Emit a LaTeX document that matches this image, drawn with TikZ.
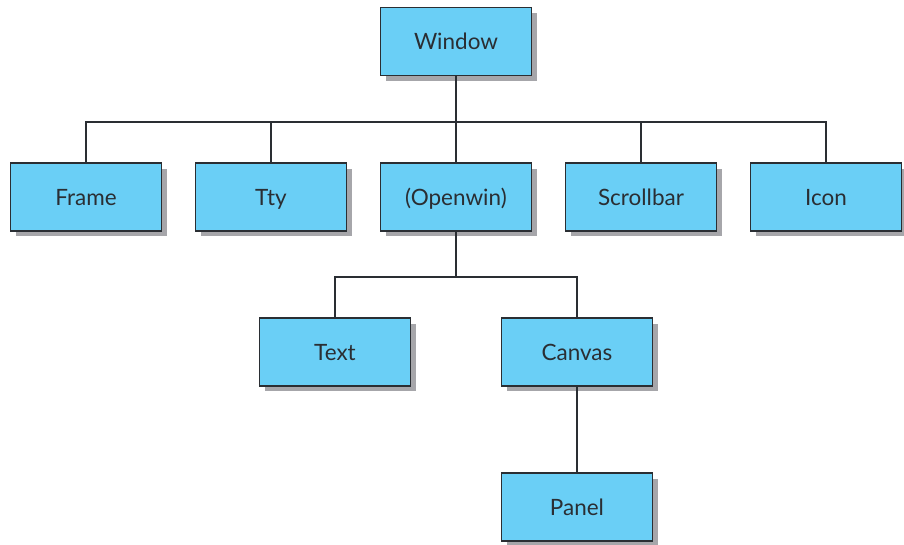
\documentclass[tikz,border=0pt]{standalone}
\usepackage{fontspec}
\setmainfont{Lato}
\usetikzlibrary{shadows}
\definecolor{boxblue}{HTML}{6ACFF6}
\definecolor{boxline}{HTML}{2A2E33}
\definecolor{shade}{HTML}{A6A6AA}
\tikzset{
	cls/.style={draw=boxline, line width=0.8pt, fill=boxblue, minimum width=3.02cm, minimum height=1.36cm, inner sep=0pt, text height=1.9ex, text depth=0pt, font=\fontsize{12.8}{14}\selectfont, text=boxline,
		drop shadow={shadow xshift=0.11cm, shadow yshift=-0.11cm, fill=shade, opacity=1}},
	link/.style={draw=boxline, line width=1.1pt}
}
\begin{document}
\begin{tikzpicture}[x=0.02cm,y=-0.02cm]
		\useasboundingbox (0,0) rectangle (904,545);
		%top
		\node[cls] (window) at (456,41.5) {Window};
		%second row
		\node[cls] (frame) at (86,197) {Frame};
		\node[cls] (tty) at (271,197) {Tty};
		\node[cls] (openwin) at (456,197) {(Openwin)};
		\node[cls] (scrollbar) at (641,197) {Scrollbar};
		\node[cls] (icon) at (826,197) {Icon};
		%third row
		\node[cls] (text) at (335,352) {Text};
		\node[cls] (canvas) at (577,352) {Canvas};
		\node[cls] (panel) at (577,507) {Panel};
		
		\coordinate (bus1) at (456,122);
		\coordinate (bus2) at (456,277);
		\draw[link] (window.south) -- (bus1);
		\foreach \n in {frame,tty,openwin,scrollbar,icon} \draw[link] (bus1) -| (\n.north);
		\draw[link] (openwin.south) -- (bus2);
		\foreach \n in {text,canvas} \draw[link] (bus2) -| (\n.north);
		\draw[link] (canvas.south) -- (panel.north);
\end{tikzpicture}
\end{document}
